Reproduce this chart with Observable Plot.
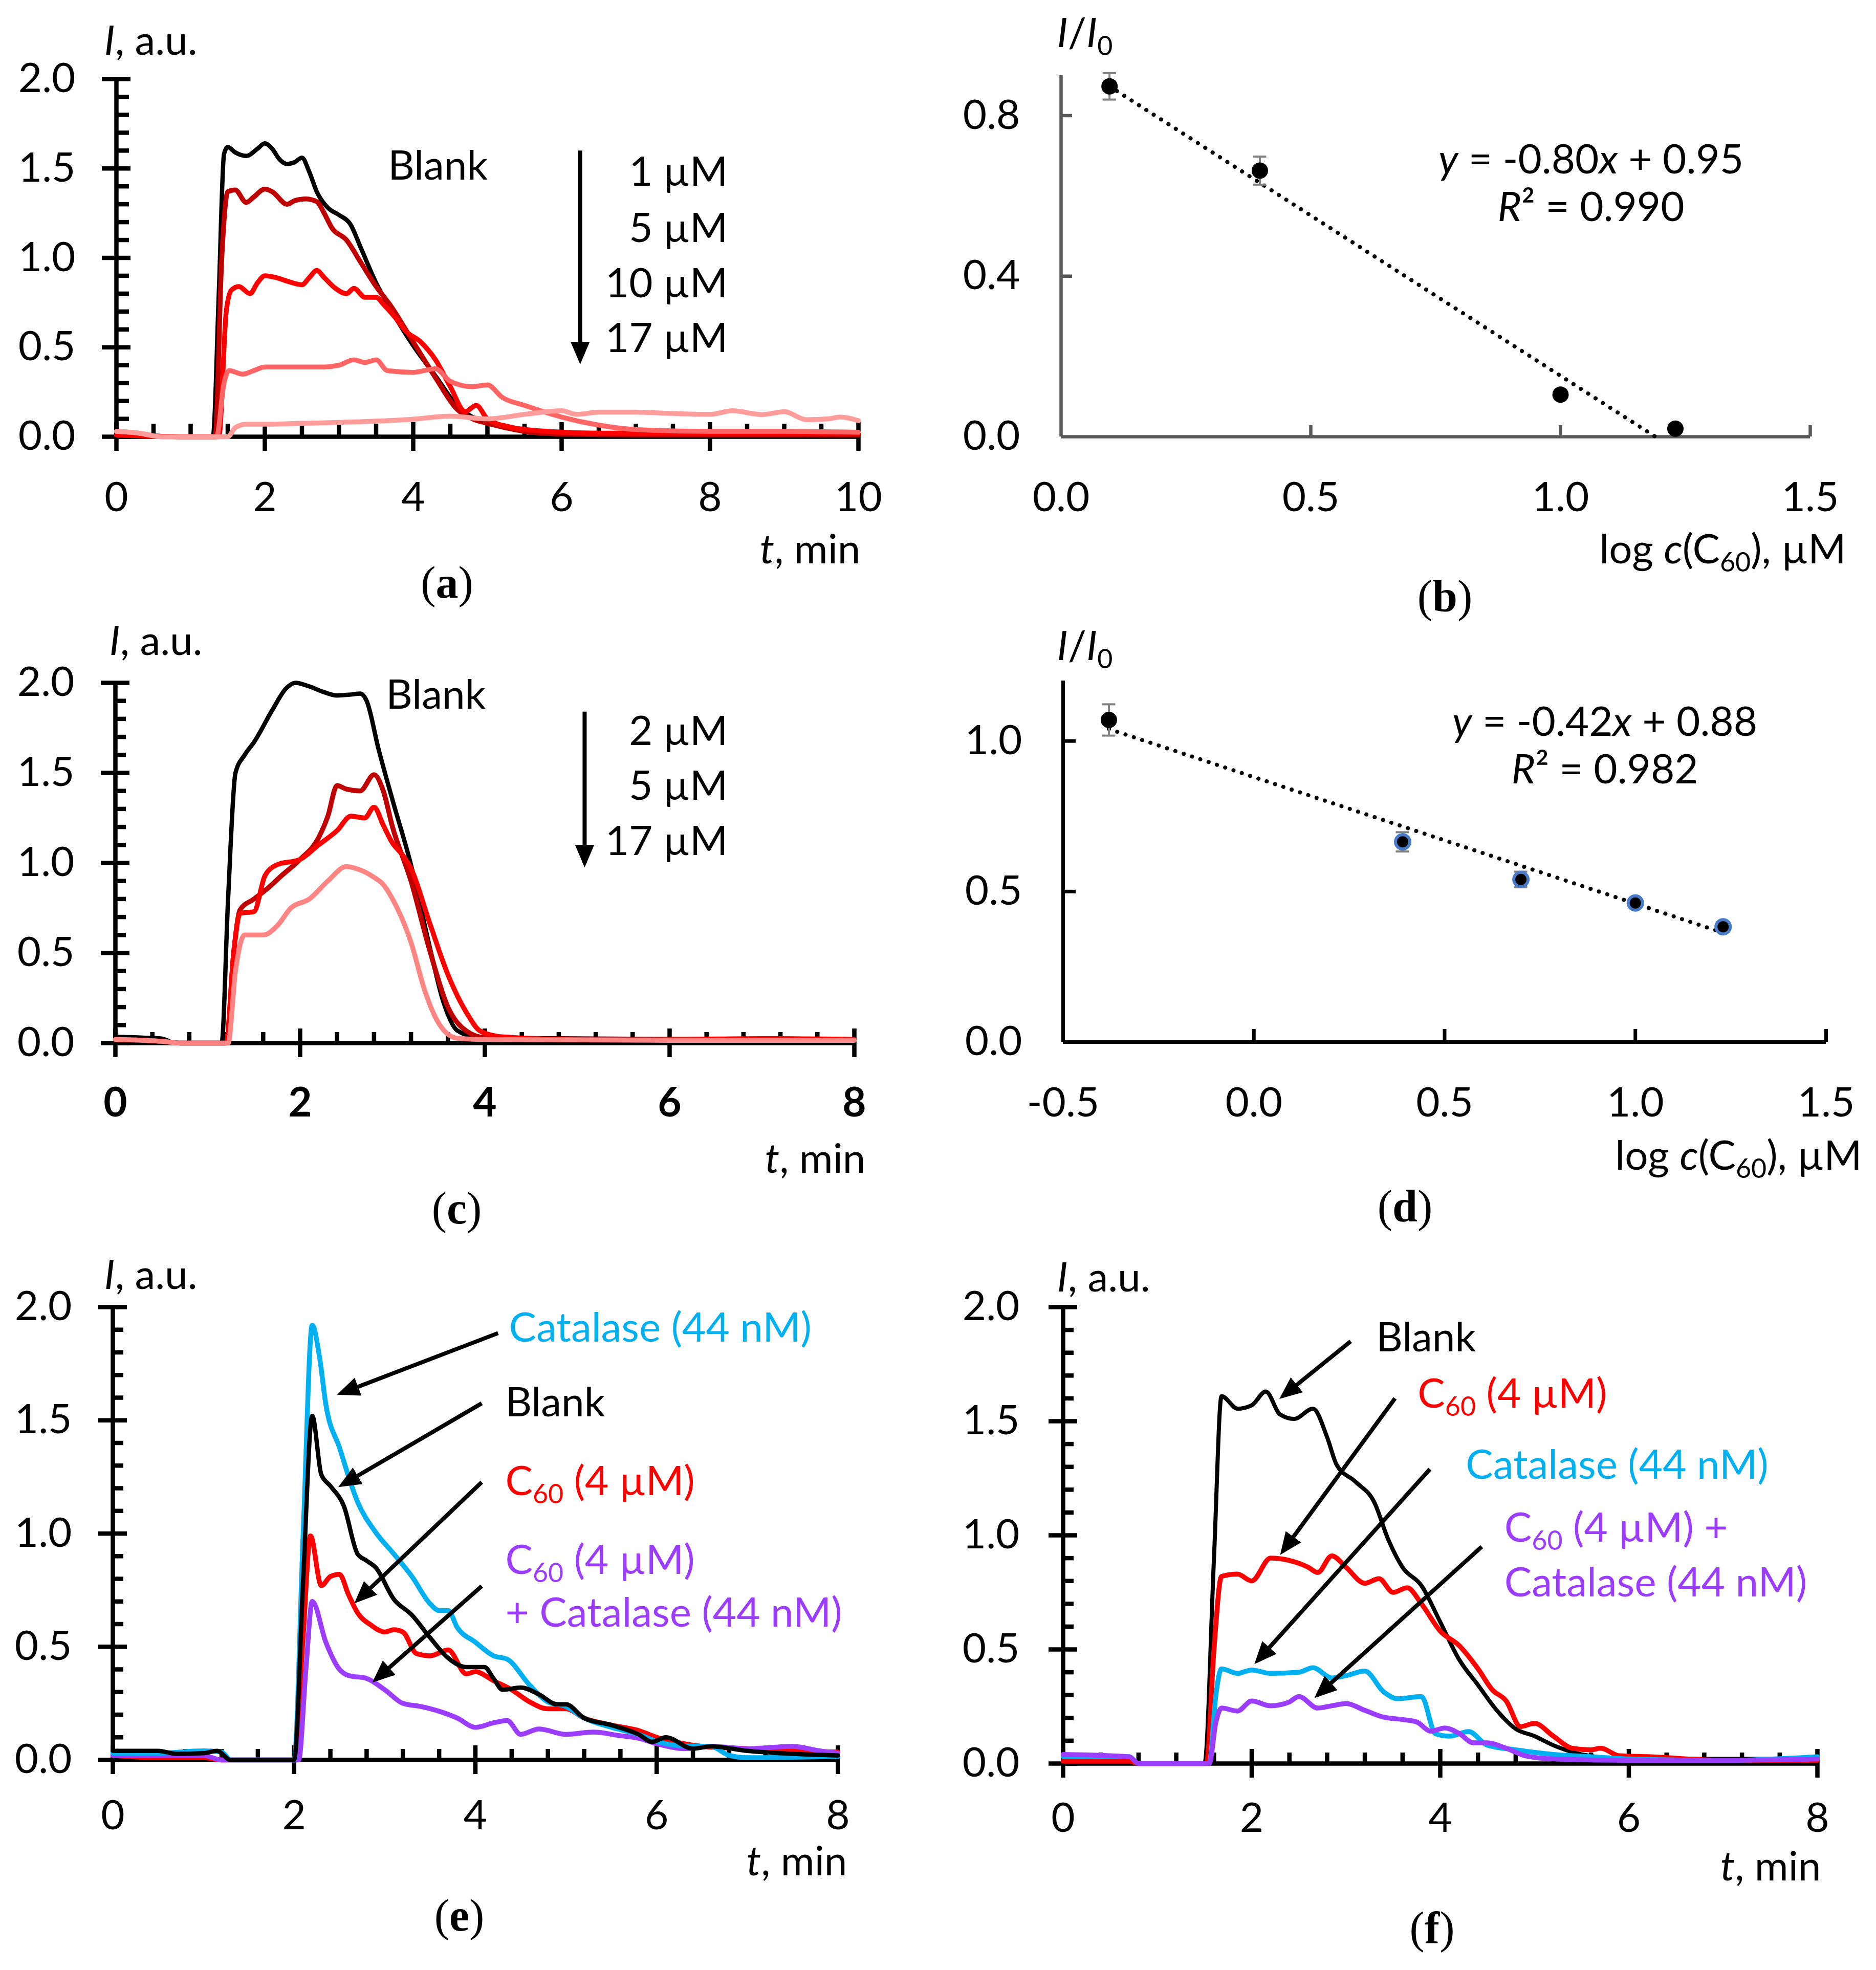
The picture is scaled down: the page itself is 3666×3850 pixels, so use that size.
<!DOCTYPE html>
<html><head><meta charset="utf-8">
<script src="https://cdn.jsdelivr.net/npm/d3@7"></script>
<script src="https://cdn.jsdelivr.net/npm/@observablehq/plot@0.6"></script>
<style>
html,body{margin:0;padding:0;background:#fff;}
#page{position:relative;width:3666px;height:3850px;background:#fff;overflow:hidden;}
.cell{position:absolute;}
.cell svg{overflow:visible;background:transparent;max-width:none;}
</style></head><body><div id="page"></div>
<script>
// ---------------- DATA ----------------
// Panel (a): I (a.u.) vs t (min)
const aBlank = [[0,0.01],[0.5,0.005],[1.0,0.0],[1.3,0.0],[1.38,0.8],[1.45,1.58],[1.5,1.62],[1.6,1.59],[1.75,1.57],[1.9,1.61],[2.0,1.64],[2.1,1.61],[2.2,1.55],[2.3,1.525],[2.4,1.535],[2.5,1.56],[2.6,1.48],[2.7,1.37],[2.85,1.28],[3.0,1.24],[3.15,1.19],[3.3,1.05],[3.5,0.86],[3.7,0.71],[4.0,0.51],[4.3,0.34],[4.6,0.17],[4.8,0.11],[5.0,0.09],[5.3,0.05],[5.6,0.03],[6.0,0.015],[7,0.01],[8,0.01],[9,0.01],[10,0.01]];
const a1uM = [[0,0.01],[1.0,0.0],[1.33,0.0],[1.42,1.0],[1.5,1.37],[1.6,1.38],[1.75,1.31],[1.85,1.34],[2.0,1.385],[2.1,1.37],[2.3,1.30],[2.4,1.32],[2.55,1.33],[2.7,1.315],[2.8,1.25],[2.9,1.17],[3.1,1.10],[3.3,0.97],[3.5,0.84],[3.7,0.73],[4.0,0.53],[4.3,0.33],[4.6,0.15],[4.8,0.1],[5.0,0.075],[5.5,0.03],[6.0,0.015],[7,0.01],[8,0.01],[9,0.01],[10,0.01]];
const a5uM = [[0,0.01],[1.0,0.0],[1.38,0.0],[1.48,0.7],[1.55,0.82],[1.65,0.84],[1.8,0.80],[1.9,0.86],[2.0,0.90],[2.15,0.89],[2.3,0.87],[2.5,0.85],[2.6,0.89],[2.7,0.93],[2.8,0.89],[2.95,0.83],[3.1,0.80],[3.2,0.83],[3.35,0.78],[3.5,0.78],[3.6,0.74],[3.75,0.67],[3.9,0.59],[4.1,0.53],[4.3,0.43],[4.5,0.28],[4.7,0.14],[4.85,0.175],[5.0,0.10],[5.3,0.055],[5.8,0.03],[6.5,0.02],[7.5,0.02],[8.5,0.02],[10,0.02]];
const a10uM = [[0,0.03],[0.3,0.02],[0.6,0.0],[1.35,0.0],[1.45,0.3],[1.52,0.37],[1.7,0.35],[1.85,0.37],[2.0,0.39],[2.5,0.39],[2.8,0.39],[3.0,0.40],[3.2,0.43],[3.35,0.415],[3.5,0.43],[3.65,0.37],[4.0,0.36],[4.3,0.38],[4.5,0.31],[4.8,0.28],[5.0,0.29],[5.2,0.22],[5.5,0.175],[6.0,0.11],[6.5,0.065],[7,0.04],[8,0.03],[9,0.03],[10,0.025]];
const a17uM = [[0,0.03],[0.3,0.02],[0.6,0.0],[1.5,0.0],[1.6,0.05],[1.75,0.07],[2.0,0.07],[2.5,0.075],[3.0,0.08],[3.5,0.087],[4.0,0.098],[4.5,0.115],[5.0,0.10],[5.5,0.125],[6.0,0.145],[6.2,0.125],[6.5,0.137],[7,0.137],[7.5,0.13],[8.0,0.125],[8.3,0.145],[8.7,0.124],[9.0,0.14],[9.3,0.095],[9.6,0.10],[9.75,0.11],[10,0.09]];
const aXTicks = [0,2,4,6,8,10];
const aYTicks = [0,0.5,1.0,1.5,2.0];
const aLabels = ["Blank","1 µM","5 µM","10 µM","17 µM"];

// Panel (b): I/I0 vs log c(C60)
const bLogC = [0.097, 0.398, 1.0, 1.23];
const bRatio = [0.873, 0.663, 0.105, 0.02];
const bErr = [0.033, 0.035, 0, 0];
const bTrend = [[0.097, 0.873], [1.19, 0.0]];
const bXTicks = [0.0, 0.5, 1.0, 1.5];
const bYTicks = [0.0, 0.4, 0.8];
const bEquation = ["*y* = -0.80*x* + 0.95", "*R*² = 0.990"];

// Panel (c)
const cBlank = [[0,0.035],[0.3,0.03],[0.5,0.025],[0.65,0.0],[1.15,0.0],[1.22,0.8],[1.3,1.5],[1.4,1.6],[1.5,1.67],[1.7,1.85],[1.85,1.97],[1.95,2.0],[2.1,1.98],[2.25,1.95],[2.4,1.93],[2.55,1.935],[2.65,1.94],[2.72,1.90],[2.85,1.63],[3.0,1.35],[3.2,0.99],[3.4,0.54],[3.55,0.23],[3.7,0.07],[3.9,0.035],[4.5,0.027],[6,0.022],[8,0.02]];
const c2uM = [[0,0.02],[0.5,0.01],[0.7,0.0],[1.2,0.0],[1.28,0.5],[1.35,0.74],[1.5,0.80],[1.65,0.86],[1.8,0.93],[2.0,1.02],[2.2,1.14],[2.3,1.26],[2.4,1.43],[2.5,1.41],[2.65,1.40],[2.8,1.49],[2.9,1.40],[3.0,1.2],[3.2,0.9],[3.4,0.52],[3.6,0.20],[3.8,0.067],[4.0,0.03],[5,0.02],[6,0.02],[7,0.02],[8,0.02]];
const c5uM = [[0,0.02],[0.5,0.01],[0.7,0.0],[1.2,0.0],[1.28,0.5],[1.35,0.72],[1.5,0.73],[1.62,0.93],[1.75,0.99],[2.0,1.02],[2.2,1.10],[2.4,1.18],[2.55,1.26],[2.7,1.25],[2.8,1.31],[2.9,1.21],[3.0,1.11],[3.1,1.05],[3.2,0.97],[3.4,0.67],[3.6,0.38],[3.8,0.17],[3.95,0.067],[4.2,0.034],[5,0.02],[6,0.02],[7,0.025],[8,0.02]];
const c17uM = [[0,0.02],[0.5,0.01],[0.7,0.0],[1.22,0.0],[1.3,0.4],[1.4,0.6],[1.6,0.60],[1.75,0.65],[1.9,0.75],[2.1,0.80],[2.3,0.90],[2.5,0.98],[2.6,0.97],[2.8,0.92],[2.9,0.88],[3.0,0.80],[3.2,0.56],[3.35,0.29],[3.5,0.11],[3.7,0.027],[4,0.02],[6,0.015],[8,0.015]];
const cXTicks = [0,2,4,6,8];
const cYTicks = [0,0.5,1.0,1.5,2.0];
const cLabels = ["Blank","2 µM","5 µM","17 µM"];

// Panel (d)
const dLogC = [-0.38, 0.39, 0.70, 1.0, 1.23];
const dRatio = [1.07, 0.665, 0.54, 0.462, 0.383];
const dErr = [0.052, 0.032, 0.026, 0.012, 0.012];
const dTrend = [[-0.38, 1.04], [1.23, 0.363]];
const dXTicks = [-0.5, 0.0, 0.5, 1.0, 1.5];
const dYTicks = [0.0, 0.5, 1.0];
const dEquation = ["*y* = -0.42*x* + 0.88", "*R*² = 0.982"];

// Panel (e)
const eCatalase = [[0,0.03],[0.5,0.03],[1.0,0.04],[1.2,0.035],[1.3,0.0],[2.0,0.0],[2.1,1.0],[2.2,1.92],[2.28,1.78],[2.35,1.57],[2.5,1.38],[2.7,1.14],[2.9,1.005],[3.1,0.91],[3.3,0.81],[3.5,0.69],[3.6,0.66],[3.7,0.66],[3.8,0.585],[4.0,0.52],[4.2,0.46],[4.35,0.445],[4.6,0.33],[4.8,0.256],[5.0,0.236],[5.2,0.185],[5.5,0.144],[5.8,0.113],[6.0,0.082],[6.3,0.062],[6.6,0.06],[6.8,0.02],[7.0,0.01],[7.5,0.012],[8,0.015]];
const eBlank = [[0,0.04],[0.5,0.04],[0.7,0.027],[1.0,0.03],[1.15,0.04],[1.3,0.0],[2.0,0.0],[2.1,0.8],[2.2,1.52],[2.3,1.26],[2.4,1.21],[2.55,1.12],[2.7,0.91],[2.8,0.88],[2.9,0.85],[3.1,0.71],[3.3,0.64],[3.5,0.54],[3.7,0.45],[3.9,0.41],[4.1,0.41],[4.2,0.36],[4.3,0.31],[4.5,0.32],[4.7,0.29],[4.9,0.246],[5.0,0.246],[5.2,0.185],[5.5,0.154],[5.8,0.113],[5.95,0.08],[6.1,0.10],[6.4,0.05],[6.6,0.06],[7.0,0.04],[7.5,0.027],[8,0.02]];
const eC60 = [[0,0.02],[0.5,0.01],[1.0,0.01],[1.2,0.0],[2.0,0.0],[2.1,0.55],[2.18,0.99],[2.3,0.77],[2.4,0.81],[2.5,0.82],[2.6,0.73],[2.7,0.65],[2.85,0.595],[3.0,0.565],[3.1,0.575],[3.2,0.565],[3.35,0.47],[3.5,0.46],[3.7,0.486],[3.9,0.38],[4.0,0.39],[4.2,0.35],[4.4,0.31],[4.6,0.256],[4.8,0.226],[5.0,0.226],[5.2,0.185],[5.5,0.154],[5.8,0.13],[6.0,0.10],[6.2,0.08],[6.5,0.06],[7.0,0.05],[7.5,0.04],[8,0.035]];
const eC60Cat = [[0,0.02],[0.5,0.02],[1.0,0.02],[1.2,0.0],[2.05,0.0],[2.13,0.4],[2.2,0.70],[2.35,0.52],[2.5,0.40],[2.6,0.373],[2.8,0.36],[3.0,0.31],[3.2,0.25],[3.4,0.236],[3.6,0.215],[3.8,0.185],[4.0,0.144],[4.2,0.164],[4.35,0.174],[4.5,0.113],[4.7,0.137],[5.0,0.113],[5.3,0.123],[5.6,0.107],[5.8,0.096],[6.0,0.072],[6.3,0.05],[6.6,0.06],[7.0,0.05],[7.5,0.06],[7.8,0.04],[8,0.03]];
const eXTicks = [0,2,4,6,8];
const eYTicks = [0,0.5,1.0,1.5,2.0];

// Panel (f)
const fBlank = [[0,0.02],[0.5,0.02],[0.7,0.02],[0.8,0.0],[1.5,0.0],[1.6,0.9],[1.68,1.61],[1.85,1.555],[2.0,1.57],[2.15,1.63],[2.3,1.53],[2.45,1.51],[2.65,1.555],[2.8,1.43],[2.9,1.31],[3.1,1.235],[3.3,1.145],[3.45,0.98],[3.6,0.86],[3.8,0.78],[4.0,0.62],[4.2,0.456],[4.4,0.344],[4.6,0.233],[4.8,0.152],[5.0,0.12],[5.2,0.08],[5.5,0.04],[6.0,0.02],[7,0.02],[8,0.02]];
const fC60 = [[0,0.01],[0.7,0.01],[0.8,0.0],[1.52,0.0],[1.6,0.5],[1.68,0.82],[1.85,0.83],[2.0,0.80],[2.2,0.90],[2.4,0.89],[2.6,0.86],[2.7,0.837],[2.85,0.91],[3.0,0.86],[3.2,0.79],[3.35,0.81],[3.5,0.75],[3.65,0.77],[3.8,0.70],[4.0,0.58],[4.2,0.517],[4.4,0.415],[4.55,0.324],[4.7,0.274],[4.85,0.162],[5.0,0.176],[5.2,0.12],[5.4,0.067],[5.6,0.06],[5.7,0.067],[5.9,0.034],[6.2,0.03],[7,0.014],[8,0.014]];
const fCatalase = [[0,0.03],[0.7,0.03],[0.8,0.0],[1.55,0.0],[1.62,0.3],[1.68,0.415],[1.85,0.395],[2.0,0.41],[2.2,0.395],[2.5,0.40],[2.65,0.42],[2.85,0.375],[3.0,0.385],[3.2,0.405],[3.4,0.314],[3.55,0.284],[3.8,0.294],[3.95,0.13],[4.1,0.12],[4.3,0.14],[4.5,0.08],[4.8,0.06],[5.2,0.04],[5.6,0.03],[6,0.02],[7,0.014],[8,0.03]];
const fC60Cat = [[0,0.04],[0.7,0.03],[0.8,0.0],[1.55,0.0],[1.62,0.18],[1.68,0.243],[1.85,0.23],[2.0,0.274],[2.2,0.253],[2.4,0.27],[2.5,0.294],[2.7,0.243],[2.85,0.253],[3.0,0.263],[3.2,0.233],[3.4,0.203],[3.6,0.193],[3.75,0.182],[3.9,0.142],[4.05,0.156],[4.2,0.132],[4.35,0.091],[4.5,0.091],[4.7,0.067],[4.9,0.034],[5.2,0.02],[6,0.014],[7,0.014],[8,0.02]];
const fXTicks = [0,2,4,6,8];
const fYTicks = [0,0.5,1.0,1.5,2.0];

const efLabels = {blank: "Blank", c60: "C_{60} (4 µM)", cat: "Catalase (44 nM)"};

// ---------------- HELPERS ----------------
const NS = "http://www.w3.org/2000/svg";
const page = document.getElementById("page");
const FS = 80;
const FONT = "Lato, 'Open Sans', sans-serif";
const LW = 9.5;

function triHead(color) {
  const m = document.createElementNS(NS, "marker");
  m.setAttribute("viewBox", "-10 -10 20 20");
  m.setAttribute("markerUnits", "userSpaceOnUse");
  m.setAttribute("markerWidth", "44");
  m.setAttribute("markerHeight", "44");
  m.setAttribute("refX", "6");
  m.setAttribute("refY", "0");
  m.setAttribute("orient", "auto");
  const p = document.createElementNS(NS, "path");
  p.setAttribute("d", "M10,0L-10,-8.5L-10,8.5Z");
  p.setAttribute("fill", color && color !== "none" ? color : "black");
  p.setAttribute("stroke", "none");
  m.appendChild(p);
  return m;
}

function richify(svg) {
  svg.querySelectorAll("text").forEach(t => {
    const s = t.textContent;
    if (!/_\{|\^\{|!\{|\*/.test(s)) return;
    const fs = parseFloat(getComputedStyle(t).fontSize) || FS;
    while (t.firstChild) t.removeChild(t.firstChild);
    const re = /(_\{[^}]*\}|\^\{[^}]*\}|!\{[^}]*\}|\*[^*]*\*)/g;
    let last = 0, m; const parts = [];
    while ((m = re.exec(s))) {
      if (m.index > last) parts.push({k: "n", s: s.slice(last, m.index)});
      const tok = m[0];
      if (tok[0] === "_") parts.push({k: "sub", s: tok.slice(2, -1)});
      else if (tok[0] === "^") parts.push({k: "sup", s: tok.slice(2, -1)});
      else if (tok[0] === "!") parts.push({k: "b", s: tok.slice(2, -1)});
      else parts.push({k: "i", s: tok.slice(1, -1)});
      last = re.lastIndex;
    }
    if (last < s.length) parts.push({k: "n", s: s.slice(last)});
    let cur = 0;
    for (const p of parts) {
      const ts = document.createElementNS(NS, "tspan");
      let target = 0;
      if (p.k === "sub") { ts.setAttribute("font-size", fs * 0.65); target = fs * 0.2; }
      if (p.k === "sup") { ts.setAttribute("font-size", fs * 0.65); target = -fs * 0.35; }
      if (p.k === "i") ts.setAttribute("font-style", "italic");
      if (p.k === "b") ts.setAttribute("font-weight", "bold");
      if (target !== cur) { ts.setAttribute("dy", target - cur); cur = target; }
      ts.textContent = p.s;
      t.appendChild(ts);
    }
  });
}

function minorTicks(lo, hi, step, major) {
  return d3.range(lo, hi + step / 2, step).map(v => +v.toFixed(4))
    .filter(v => !major.some(M => Math.abs(M - v) < 1e-6));
}

function axesMarks(p, fw, fh) {
  const c = p.axisColor, sw = p.axisWidth;
  const out = [];
  if (p.xMinor) out.push(Plot.tickX(p.xMinor, {x: d => d, stroke: c, strokeWidth: sw, insetTop: fh - p.minorLen, insetBottom: 0}));
  if (p.yMinor) out.push(Plot.tickY(p.yMinor, {y: d => d, stroke: c, strokeWidth: sw, insetLeft: 0, insetRight: fw - p.minorLen}));
  out.push(Plot.tickX(p.xMajor, {x: d => d, stroke: c, strokeWidth: sw, insetTop: fh - p.majorIn, insetBottom: -p.majorOut}));
  out.push(Plot.tickY(p.yMajor, {y: d => d, stroke: c, strokeWidth: sw, insetLeft: -p.majorOut, insetRight: fw - p.majorIn}));
  out.push(Plot.ruleX([p.x[0]], {stroke: c, strokeWidth: sw}));
  out.push(Plot.ruleY([p.y[0]], {stroke: c, strokeWidth: sw}));
  out.push(Plot.text(p.xLabels, {x: d => d, y: () => p.y[0], text: p.xFmt, dy: p.xLabelDy, lineAnchor: "middle", fontSize: FS, fontWeight: p.xBold ? "bold" : "normal", fill: "black"}));
  out.push(Plot.text(p.yLabels, {x: () => p.x[0], y: d => d, text: p.yFmt, dx: p.yLabelDx, lineAnchor: "middle", textAnchor: "end", fontSize: FS, fill: "black"}));
  return out;
}

function seriesLines(series) {
  return series.map(s => Plot.line(s.pts, {x: d => d[0], y: d => d[1], stroke: s.color, strokeWidth: s.w, curve: "monotone-x", strokeLinejoin: "round", strokeLinecap: "round"}));
}
function annotations(list) {
  return list.map(a => Plot.text([a.text], {x: () => a.x, y: () => a.y, text: d => d, fill: a.color || "black", textAnchor: a.anchor || "start", lineAnchor: "middle", fontSize: FS}));
}
function arrows(list) {
  return Plot.link(list, {x1: "x1", y1: "y1", x2: "x2", y2: "y2", stroke: "black", strokeWidth: 8, markerEnd: triHead});
}

function makePanel(p) {
  const [bx, by, bw, bh] = p.box;
  const [fl, ft, fr, fb] = p.frame;
  const fw = fr - fl, fh = fb - ft;
  const marks = [...axesMarks(p, fw, fh), ...p.marks(fw, fh)];
  marks.push(Plot.text([p.yTitle], {frameAnchor: "top-left", dx: p.yTitlePos[0], dy: p.yTitlePos[1], text: d => d, textAnchor: "start", lineAnchor: "middle", fontSize: FS, fill: "black"}));
  marks.push(Plot.text([p.xTitle], {frameAnchor: "bottom-right", dx: p.xTitlePos[0], dy: p.xTitlePos[1], text: d => d, textAnchor: "end", lineAnchor: "middle", fontSize: FS, fill: "black"}));
  marks.push(Plot.text([p.caption], {frameAnchor: "bottom-left", dx: p.capPos[0], dy: p.capPos[1], text: d => d, textAnchor: "middle", lineAnchor: "middle", fontSize: 88, fontFamily: "'Liberation Serif', 'DejaVu Serif', serif", fill: "black"}));
  const svg = Plot.plot({
    width: bw, height: bh,
    marginLeft: fl - bx, marginTop: ft - by, marginRight: bx + bw - fr, marginBottom: by + bh - fb,
    x: {domain: p.x, axis: null},
    y: {domain: p.y, axis: null},
    style: {fontFamily: FONT, fontSize: FS + "px", background: "transparent", overflow: "visible", color: "black"},
    marks
  });
  const div = document.createElement("div");
  div.className = "cell";
  div.style.left = bx + "px"; div.style.top = by + "px";
  div.style.width = bw + "px"; div.style.height = bh + "px";
  div.appendChild(svg);
  page.appendChild(div);
  richify(svg);
}

const f1 = d => d.toFixed(1);
const f0 = d => String(d);
const excel = {axisColor: "#000", axisWidth: 8.5, majorIn: 28, majorOut: 28, minorLen: 21, yFmt: f1, xFmt: f0, yLabelDx: -80};

// ---------------- PANEL (a) ----------------
makePanel({...excel, minorLen: 25,
  box: [0, 0, 1830, 1200], frame: [227, 154, 1677, 853],
  x: [0, 10], y: [0, 2],
  xMajor: aXTicks, yMajor: aYTicks, xLabels: aXTicks, yLabels: aYTicks,
  xMinor: minorTicks(0, 10, 0.5, aXTicks), yMinor: minorTicks(0, 2, 0.1, aYTicks),
  xLabelDy: 120,
  yTitle: "*I*, a.u.", yTitlePos: [-24, -73],
  xTitle: "*t*, min", xTitlePos: [4, 222],
  caption: "(!{a})", capPos: [646, 286],
  marks: () => [
    ...seriesLines([
      {pts: aBlank, color: "#000000", w: 8.5},
      {pts: a1uM, color: "#C00000", w: LW},
      {pts: a5uM, color: "#FF0000", w: LW},
      {pts: a10uM, color: "#FF6565", w: LW},
      {pts: a17uM, color: "#FF9C9C", w: LW}
    ]),
    ...annotations([
      {x: 3.66, y: 1.51, text: aLabels[0]},
      {x: 8.24, y: 1.476, text: aLabels[1], anchor: "end"},
      {x: 8.24, y: 1.162, text: aLabels[2], anchor: "end"},
      {x: 8.24, y: 0.853, text: aLabels[3], anchor: "end"},
      {x: 8.24, y: 0.547, text: aLabels[4], anchor: "end"}
    ]),
    arrows([{x1: 6.25, y1: 1.60, x2: 6.25, y2: 0.43}])
  ]
});

// ---------------- PANEL (b) ----------------
makePanel({
  axisColor: "#595959", axisWidth: 6.5, majorIn: 22, majorOut: 0, minorLen: 0,
  box: [1830, 0, 1836, 1200], frame: [2073, 147, 3537, 853],
  x: [0, 1.5], y: [0, 0.9],
  xMajor: [0.5, 1.0, 1.5], yMajor: [0.4, 0.8], xLabels: bXTicks, yLabels: bYTicks,
  xFmt: f1, yFmt: f1, xLabelDy: 120, yLabelDx: -80,
  yTitle: "*I*/*I*_{0}", yTitlePos: [-8, -81],
  xTitle: "log *c*(C_{60}), µM", xTitlePos: [70, 222],
  caption: "(!{b})", capPos: [750, 313],
  marks: (fw) => {
    const pts = bLogC.map((x, i) => ({x, y: bRatio[i], e: bErr[i]}));
    const cap = 13 * 1.5 / fw;
    const eb = pts.filter(d => d.e > 0);
    return [
      Plot.line(bTrend, {x: d => d[0], y: d => d[1], stroke: "black", strokeWidth: 8, strokeDasharray: "0.1,17", strokeLinecap: "round"}),
      Plot.ruleX(eb, {x: "x", y1: d => d.y - d.e, y2: d => d.y + d.e, stroke: "#808080", strokeWidth: 4}),
      Plot.ruleY(eb, {y: d => d.y + d.e, x1: d => d.x - cap, x2: d => d.x + cap, stroke: "#808080", strokeWidth: 4}),
      Plot.ruleY(eb, {y: d => d.y - d.e, x1: d => d.x - cap, x2: d => d.x + cap, stroke: "#808080", strokeWidth: 4}),
      Plot.dot(pts, {x: "x", y: "y", r: 16, fill: "black", stroke: "none"}),
      Plot.text([bEquation[0]], {x: () => 1.061, y: () => 0.688, text: d => d, textAnchor: "middle", lineAnchor: "middle", fontSize: FS, fill: "black"}),
      Plot.text([bEquation[1]], {x: () => 1.061, y: () => 0.570, text: d => d, textAnchor: "middle", lineAnchor: "middle", fontSize: FS, fill: "black"})
    ];
  }
});

// ---------------- PANEL (c) ----------------
makePanel({...excel,
  box: [0, 1200, 1830, 1220], frame: [225, 1334, 1669, 2038],
  x: [0, 8], y: [0, 2],
  xMajor: cXTicks, yMajor: cYTicks, xLabels: cXTicks, yLabels: cYTicks,
  xMinor: minorTicks(0, 8, 0.4, cXTicks), yMinor: minorTicks(0, 2, 0.1, cYTicks),
  xLabelDy: 118, xBold: true,
  yTitle: "*I*, a.u.", yTitlePos: [-12, -80],
  xTitle: "*t*, min", xTitlePos: [22, 228],
  caption: "(!{c})", capPos: [667, 324],
  marks: () => [
    ...seriesLines([
      {pts: cBlank, color: "#000000", w: 8.5},
      {pts: c2uM, color: "#C00000", w: LW},
      {pts: c5uM, color: "#FF0000", w: LW},
      {pts: c17uM, color: "#FF8585", w: LW}
    ]),
    ...annotations([
      {x: 2.93, y: 1.93, text: cLabels[0]},
      {x: 6.63, y: 1.727, text: cLabels[1], anchor: "end"},
      {x: 6.63, y: 1.423, text: cLabels[2], anchor: "end"},
      {x: 6.63, y: 1.116, text: cLabels[3], anchor: "end"}
    ]),
    arrows([{x1: 5.08, y1: 1.84, x2: 5.08, y2: 1.0}])
  ]
});

// ---------------- PANEL (d) ----------------
makePanel({
  axisColor: "#000", axisWidth: 7, majorIn: 25, majorOut: 0, minorLen: 0,
  box: [1830, 1200, 1836, 1220], frame: [2077, 1330, 3568, 2036],
  x: [-0.5, 1.5], y: [0, 1.2],
  xMajor: [0.0, 0.5, 1.0, 1.5], yMajor: [0.5, 1.0], xLabels: dXTicks, yLabels: dYTicks,
  xFmt: f1, yFmt: f1, xLabelDy: 120, yLabelDx: -80,
  yTitle: "*I*/*I*_{0}", yTitlePos: [-12, -66],
  xTitle: "log *c*(C_{60}), µM", xTitlePos: [70, 224],
  caption: "(!{d})", capPos: [668, 322],
  marks: (fw) => {
    const pts = dLogC.map((x, i) => ({x, y: dRatio[i], e: dErr[i], i}));
    const cap = 13 * 2 / fw;
    return [
      Plot.line(dTrend, {x: d => d[0], y: d => d[1], stroke: "black", strokeWidth: 8, strokeDasharray: "0.1,17", strokeLinecap: "round"}),
      Plot.ruleX(pts, {x: "x", y1: d => d.y - d.e, y2: d => d.y + d.e, stroke: "#808080", strokeWidth: 4}),
      Plot.ruleY(pts, {y: d => d.y + d.e, x1: d => d.x - cap, x2: d => d.x + cap, stroke: "#808080", strokeWidth: 4}),
      Plot.ruleY(pts, {y: d => d.y - d.e, x1: d => d.x - cap, x2: d => d.x + cap, stroke: "#808080", strokeWidth: 4}),
      Plot.dot(pts.filter(d => d.i === 0), {x: "x", y: "y", r: 16, fill: "black", stroke: "none"}),
      Plot.dot(pts.filter(d => d.i > 0), {x: "x", y: "y", r: 14, fill: "black", stroke: "#4A7BC8", strokeWidth: 6}),
      Plot.text([dEquation[0]], {x: () => 0.92, y: () => 1.06, text: d => d, textAnchor: "middle", lineAnchor: "middle", fontSize: FS, fill: "black"}),
      Plot.text([dEquation[1]], {x: () => 0.92, y: () => 0.903, text: d => d, textAnchor: "middle", lineAnchor: "middle", fontSize: FS, fill: "black"})
    ];
  }
});

// ---------------- PANEL (e) ----------------
const CYAN = "#00B0F0", PURPLE = "#9B3CFF", RED = "#FF0000";
makePanel({...excel,
  box: [0, 2420, 1830, 1430], frame: [220, 2554, 1637, 3439],
  x: [0, 8], y: [0, 2],
  xMajor: eXTicks, yMajor: eYTicks, xLabels: eXTicks, yLabels: eYTicks,
  xMinor: minorTicks(0, 8, 0.4, eXTicks), yMinor: minorTicks(0, 2, 0.1, eYTicks),
  xLabelDy: 110,
  yTitle: "*I*, a.u.", yTitlePos: [-17, -61],
  xTitle: "*t*, min", xTitlePos: [18, 200],
  caption: "(!{e})", capPos: [677, 305],
  marks: () => [
    ...seriesLines([
      {pts: eC60, color: RED, w: LW},
      {pts: eC60Cat, color: PURPLE, w: LW},
      {pts: eCatalase, color: CYAN, w: LW},
      {pts: eBlank, color: "#000000", w: 8.5}
    ]),
    ...annotations([
      {x: 4.37, y: 1.905, text: efLabels.cat, color: CYAN},
      {x: 4.33, y: 1.575, text: efLabels.blank},
      {x: 4.33, y: 1.227, text: efLabels.c60, color: RED},
      {x: 4.33, y: 0.879, text: efLabels.c60, color: PURPLE},
      {x: 4.33, y: 0.647, text: "+ " + efLabels.cat, color: PURPLE}
    ]),
    arrows([
      {x1: 4.25, y1: 1.885, x2: 2.52, y2: 1.62},
      {x1: 4.07, y1: 1.575, x2: 2.53, y2: 1.215},
      {x1: 4.07, y1: 1.227, x2: 2.70, y2: 0.705},
      {x1: 4.07, y1: 0.768, x2: 2.90, y2: 0.355}
    ])
  ]
});

// ---------------- PANEL (f) ----------------
makePanel({...excel,
  box: [1830, 2420, 1836, 1430], frame: [2077, 2554, 3551, 3446],
  x: [0, 8], y: [0, 2],
  xMajor: fXTicks, yMajor: fYTicks, xLabels: fXTicks, yLabels: fYTicks,
  xMinor: minorTicks(0, 8, 0.4, fXTicks), yMinor: minorTicks(0, 2, 0.1, fYTicks),
  xLabelDy: 108, yLabelDx: -85,
  yTitle: "*I*, a.u.", yTitlePos: [-12, -56],
  xTitle: "*t*, min", xTitlePos: [7, 203],
  caption: "(!{f})", capPos: [721, 322],
  marks: () => [
    ...seriesLines([
      {pts: fBlank, color: "#000000", w: 8},
      {pts: fC60, color: RED, w: LW},
      {pts: fCatalase, color: CYAN, w: LW},
      {pts: fC60Cat, color: PURPLE, w: LW}
    ]),
    ...annotations([
      {x: 3.32, y: 1.863, text: efLabels.blank},
      {x: 3.76, y: 1.617, text: efLabels.c60, color: RED},
      {x: 4.27, y: 1.305, text: efLabels.cat, color: CYAN},
      {x: 4.68, y: 1.03, text: efLabels.c60 + " +", color: PURPLE},
      {x: 4.68, y: 0.79, text: efLabels.cat, color: PURPLE}
    ]),
    arrows([
      {x1: 3.05, y1: 1.85, x2: 2.33, y2: 1.61},
      {x1: 3.52, y1: 1.60, x2: 2.33, y2: 0.93},
      {x1: 3.89, y1: 1.29, x2: 2.06, y2: 0.45},
      {x1: 4.44, y1: 0.95, x2: 2.70, y2: 0.30}
    ])
  ]
});
</script></body></html>
